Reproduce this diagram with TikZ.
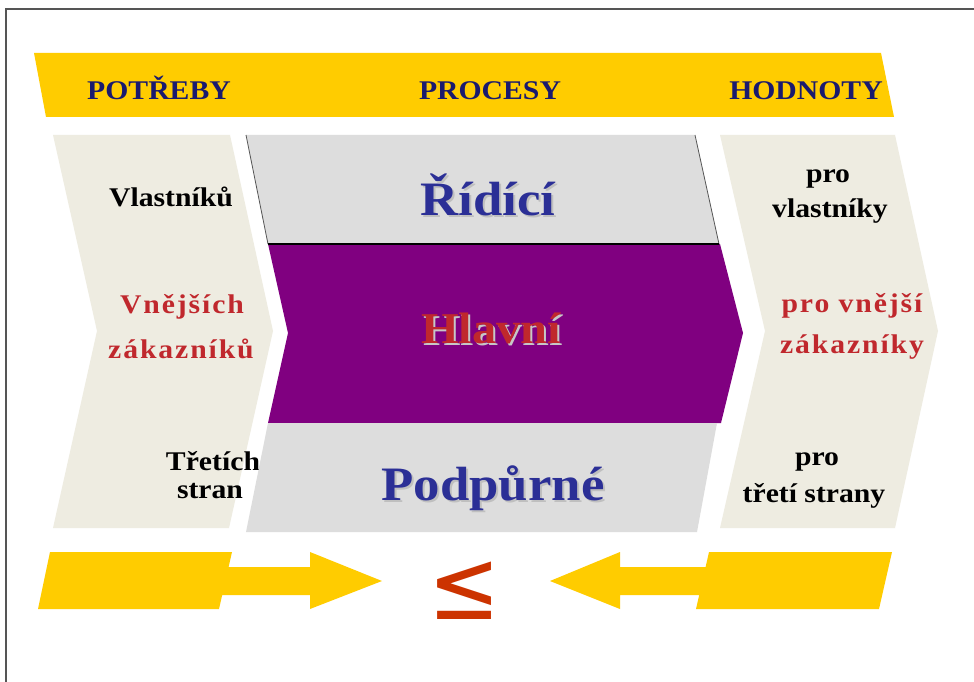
\documentclass[tikz,border=0pt]{standalone}
\usepackage{fontspec}
\setmainfont{Liberation Serif}[FakeStretch=1.1]
\newfontfamily\spacedserif{Liberation Serif}[FakeStretch=1.1,LetterSpace=7]
\newfontfamily\symfont{DejaVu Sans}

\definecolor{bandyellow}{HTML}{FFCC00}
\definecolor{paper}{HTML}{EEECE1}
\definecolor{lightgray}{HTML}{DDDDDD}
\definecolor{mainpurple}{HTML}{800080}
\definecolor{headnavy}{HTML}{1A1A6E}
\definecolor{procblue}{HTML}{2B2F96}
\definecolor{accentred}{HTML}{C0282D}
\definecolor{leqred}{HTML}{CC3300}
\definecolor{framegray}{HTML}{555555}

% text with a soft drop shadow behind it
\newcommand{\shadowed}[2]{\makebox[0pt][l]{\hspace{2pt}\raisebox{-2.5pt}{\textcolor{#1}{#2}}}#2}

\tikzset{
  heading/.style={anchor=base, text=headnavy, font=\fontsize{27}{30}\selectfont\bfseries},
  sidetext/.style={anchor=base, text=black, font=\fontsize{27}{30}\selectfont\bfseries, inner sep=0pt},
  redtext/.style={anchor=base, text=accentred, font=\fontsize{27}{30}\spacedserif\bfseries, inner sep=0pt},
  proctext/.style={anchor=base, font=\fontsize{48}{52}\selectfont\bfseries, inner sep=0pt},
  panel/.style={fill=paper, draw=none},
  procgray/.style={fill=lightgray, draw=none},
  yellowshape/.style={fill=bandyellow, draw=none},
}

\begin{document}
\begin{tikzpicture}[x=1pt,y=-1pt]
\useasboundingbox (0,0) rectangle (974,682);
\fill[white] (0,0) rectangle (974,682);

% outer frame (top and left edges visible)
\draw[framegray, line width=2pt] (6,682) -- (6,9.5) -- (974,9.5);

% header band
\fill[yellowshape] (34,53) -- (881,53) -- (894,117) -- (46,117) -- cycle;
\node[heading] (needs) at (159,100) {POTŘEBY};
\node[heading] (procs) at (490,100) {PROCESY};
\node[heading] (values) at (806,100) {HODNOTY};

% left chevron: needs
\fill[panel] (53,135) -- (230,135) -- (273,331) -- (229,528) -- (53,528) -- (97,331) -- cycle;
\node[sidetext] (own) at (171,206) {Vlastníků};
\node[redtext] (ext1) at (182,313) {Vnějších};
\node[redtext] (ext2) at (181,358) {zákazníků};
\node[sidetext] (third1) at (213,470) {Třetích};
\node[sidetext] (third2) at (210,498) {stran};

% right chevron: values
\fill[panel] (720,135) -- (895,135) -- (938,331) -- (895,528) -- (720,528) -- (765,331) -- cycle;
\node[sidetext] (vown1) at (828,182) {pro};
\node[sidetext] (vown2) at (830,217) {vlastníky};
\node[redtext] (vext1) at (852,312) {pro vnější};
\node[redtext] (vext2) at (852,353) {zákazníky};
\node[sidetext] (vthird1) at (817,465) {pro};
\node[sidetext] (vthird2) at (814,502) {třetí strany};

% processes block
\fill[procgray] (246,135) -- (695,135) -- (719,244) -- (268,244) -- cycle;
\draw[framegray, line width=0.8pt] (246,135) -- (268,244);
\draw[framegray, line width=0.8pt] (695,135) -- (719,244);
\fill[mainpurple] (268,244) -- (720,244) -- (743,333) -- (721,423) -- (268,423) -- (288,333) -- cycle;
\fill[procgray] (268,423) -- (717,423) -- (697,532) -- (246,532) -- cycle;
\draw[black, line width=1.4pt] (268,244) -- (719,244);

\node[proctext, text=procblue] (mgmt) at (488,215) {\shadowed{black!25}{Řídící}};
\node[proctext, text=accentred, font=\fontsize{44}{48}\selectfont\bfseries] (core) at (491,343) {\shadowed{black!22}{Hlavní}};
\node[proctext, text=procblue] (support) at (493,500) {\shadowed{black!25}{Podpůrné}};

% bottom arrows meeting at the comparison sign
\fill[yellowshape] (50,552) -- (232,552) -- (228.6,567) -- (310,567) -- (310,552) -- (382,581)
  -- (310,609) -- (310,595) -- (222.2,595) -- (219,609) -- (38,609) -- cycle;
\fill[yellowshape] (550,581) -- (620,552) -- (620,567) -- (705.6,567) -- (709,552) -- (892,552)
  -- (879,609) -- (696,609) -- (699.2,595) -- (620,595) -- (620,609) -- cycle;
\node[anchor=center, text=leqred, font=\fontsize{86}{90}\symfont, inner sep=0pt] (leq) at (465,591) {\scalebox{1}[1.15]{≤}};
\end{tikzpicture}
\end{document}
